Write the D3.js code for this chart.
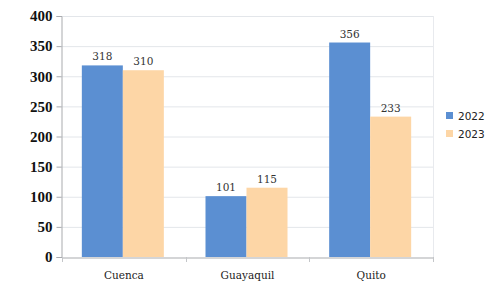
<!DOCTYPE html>
<html>
<head>
<meta charset="utf-8">
<script src="https://cdn.jsdelivr.net/npm/d3@7"></script>
<style>
  body { margin: 0; background: #fff; }
</style>
</head>
<body>
<div id="chart"></div>
<script>
// data
let cities = ["Cuenca", "Guayaquil", "Quito"]
let years = ["2022", "2023"]
let values2022 = [318, 101, 356]
let values2023 = [310, 115, 233]
let yTicks = [0, 50, 100, 150, 200, 250, 300, 350, 400]

let colors = { "2022": "#5b8fd2", "2023": "#fdd6a6" }

let width = 495, height = 282
let margin = { left: 61, right: 62, top: 16, bottom: 25 }

let svg = d3.select("#chart").append("svg")
  .attr("width", width)
  .attr("height", height)

let x = d3.scaleBand()
  .domain(cities)
  .range([margin.left + 1, width - margin.right])

let xInner = d3.scaleBand()
  .domain(years)
  .range([0, 82])

let y = d3.scaleLinear()
  .domain([0, 400])
  .range([height - margin.bottom, margin.top])

// gridlines
svg.append("g")
  .selectAll("line")
  .data(yTicks.slice(1))
  .enter()
  .append("line")
  .attr("x1", margin.left)
  .attr("x2", width - margin.right)
  .attr("y1", d => y(d) + 0.5)
  .attr("y2", d => y(d) + 0.5)
  .style("stroke", "#e3e6ea")

// right border of plot
svg.append("line")
  .attr("x1", width - margin.right + 0.5)
  .attr("x2", width - margin.right + 0.5)
  .attr("y1", y(400))
  .attr("y2", y(0))
  .style("stroke", "#e8eaee")

// bars
let rows = cities.map((c, i) => ({ city: c, values: [
  { year: "2022", value: values2022[i] },
  { year: "2023", value: values2023[i] }
]}))

let groups = svg.append("g")
  .selectAll("g")
  .data(rows)
  .enter()
  .append("g")
  .attr("transform", d => `translate(${x(d.city) + (x.bandwidth() - 82) / 2 - 1},0)`)

groups.selectAll("rect")
  .data(d => d.values)
  .enter()
  .append("rect")
  .attr("x", d => xInner(d.year))
  .attr("width", xInner.bandwidth())
  .attr("y", d => y(d.value))
  .attr("height", d => y(0) - y(d.value))
  .style("fill", d => colors[d.year])

groups.selectAll("text")
  .data(d => d.values)
  .enter()
  .append("text")
  .attr("x", d => xInner(d.year) + xInner.bandwidth() / 2)
  .attr("y", d => y(d.value) - 5)
  .attr("text-anchor", "middle")
  .style("font-family", "DejaVu Serif")
  .style("font-size", "10.5px")
  .style("fill", "#333")
  .text(d => d.value)

// y axis
let yAxis = svg.append("g")
  .attr("transform", `translate(${margin.left + 0.5},0)`)
  .call(d3.axisLeft(y).tickValues(yTicks).tickSize(5).tickPadding(4))

yAxis.select(".domain").style("stroke", "#a9abae")
yAxis.selectAll(".tick line").style("stroke", "#a9abae")
yAxis.selectAll("text")
  .style("font-family", "Liberation Serif")
  .style("font-weight", "bold")
  .style("font-size", "15px")
  .style("fill", "#111")

// x axis
let xAxis = svg.append("g")
  .attr("transform", `translate(0,${y(0) + 0.5})`)
  .call(d3.axisBottom(x).tickSize(0).tickPadding(14))

xAxis.select(".domain").style("stroke", "#a9abae")
xAxis.selectAll("text")
  .style("font-family", "DejaVu Serif")
  .style("font-size", "10.5px")
  .style("fill", "#222")

// category boundary ticks
svg.append("g")
  .selectAll("line")
  .data(cities.concat(["end"]))
  .enter()
  .append("line")
  .attr("x1", (d, i) => Math.round(x.range()[0] + i * x.bandwidth()) + 0.5)
  .attr("x2", (d, i) => Math.round(x.range()[0] + i * x.bandwidth()) + 0.5)
  .attr("y1", y(0))
  .attr("y2", y(0) + 5)
  .style("stroke", "#c4c6c9")

// legend
let legend = svg.append("g")
  .selectAll("g")
  .data(years)
  .enter()
  .append("g")
  .attr("transform", (d, i) => `translate(446,${112 + i * 18})`)

legend.append("rect")
  .attr("width", 7)
  .attr("height", 7)
  .style("fill", d => colors[d])

legend.append("text")
  .attr("x", 12)
  .attr("y", 7.5)
  .style("font-family", "DejaVu Sans")
  .style("font-size", "10.5px")
  .style("fill", "#222")
  .text(d => d)
</script>
</body>
</html>
